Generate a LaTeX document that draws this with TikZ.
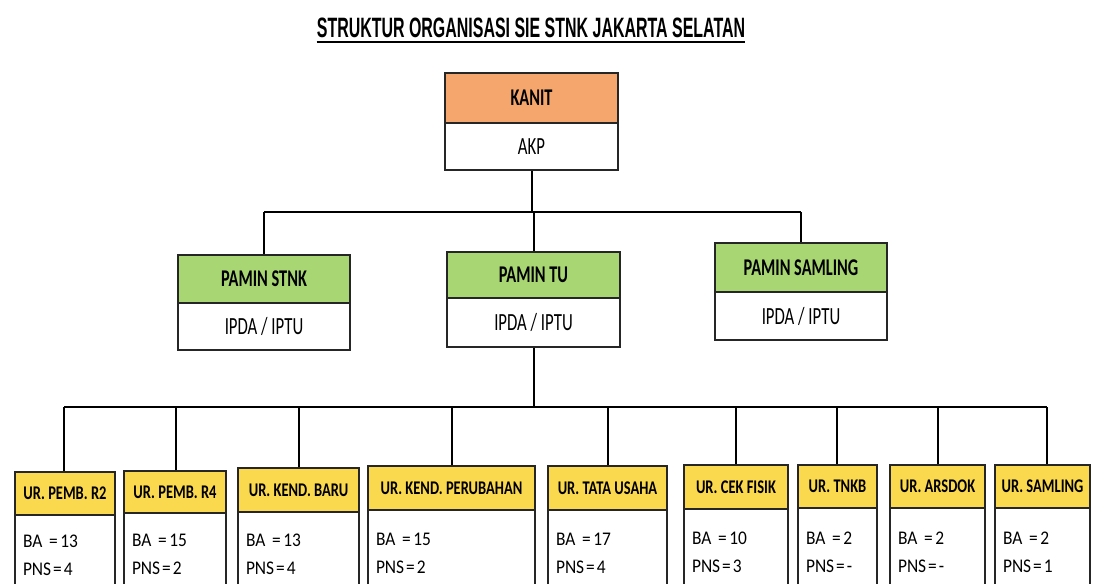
\documentclass[tikz,border=0pt]{standalone}
\usepackage{fontspec}
\newfontfamily\upfont[FakeStretch=0.68]{Carlito}
\newfontfamily\lowfont[FakeStretch=0.75]{Carlito}
\newfontfamily\bodyfont[FakeStretch=0.9]{Carlito}
\newfontfamily\titlefont[FakeStretch=0.57]{Liberation Sans}
\definecolor{linec}{HTML}{262626}
\definecolor{orangec}{HTML}{F4A66C}
\definecolor{greenc}{HTML}{A8D672}
\definecolor{yellowc}{HTML}{FBD94F}
\newcommand\ipdaiptu{IPDA / IPTU}
\tikzset{
  bx/.style={draw=linec, line width=1.3pt, inner sep=0pt, rectangle},
  hd/.style={bx, font=\lowfont\bfseries\fontsize{14.5}{17}\selectfont},
  hdbig/.style={bx, font=\upfont\bfseries\fontsize{18}{22}\selectfont},
  sb/.style={bx, fill=white, font=\bodyfont\fontsize{14.5}{21}\selectfont},
  sbbig/.style={bx, fill=white, font=\upfont\fontsize{18.5}{22}\selectfont},
  conn/.style={draw=black, line width=1.5pt},
  ttl/.style={inner sep=0pt, font=\titlefont\bfseries\fontsize{21}{24}\selectfont}
}
\begin{document}
\begin{tikzpicture}[x=0.75pt,y=-0.75pt]
\useasboundingbox (0,0) rectangle (1096,583);
\clip (0,0) rectangle (1096,583);
% title
\node[ttl, anchor=base] (title) at (531,37) {STRUKTUR ORGANISASI SIE STNK JAKARTA SELATAN};
\draw[line width=1.6pt] ([yshift=-3.9pt]title.base west) -- ([yshift=-3.9pt]title.base east);
% upper two-part boxes
\foreach \n/\l/\r/\t/\m/\b/\c/\ti/\su in {
  kanit/445/618/73/123/170/orangec/KANIT/AKP,
  stnk/178/350/255/303/350/greenc/PAMIN STNK/\ipdaiptu,
  tu/447/620/252/298/347/greenc/PAMIN TU/\ipdaiptu,
  sam/715/887/243/292/340/greenc/PAMIN SAMLING/\ipdaiptu}{
  \pgfmathsetmacro\w{(\r-\l)*0.75}
  \pgfmathsetmacro\ha{(\m-\t)*0.75}
  \pgfmathsetmacro\hb{(\b-\m)*0.75}
  \node[hdbig, fill=\c, minimum width=\w pt, minimum height=\ha pt] (\n) at ({(\l+\r)/2},{(\t+\m)/2}) {\ti};
  \node[sbbig, minimum width=\w pt, minimum height=\hb pt] (\n b) at ({(\l+\r)/2},{(\m+\b)/2}) {\su};
}
% lower boxes
\foreach \n/\l/\r/\t/\m/\ti/\ba/\pn in {
  u1/15/115/472/515/UR. PEMB. R2/13/4,
  u2/124/226/471/513/UR. PEMB. R4/15/2,
  u3/238/359/468/512/UR. KEND. BARU/13/4,
  u4/368/535/466/510/UR. KEND. PERUBAHAN/15/2,
  u5/548/667/466/510/UR. TATA USAHA/17/4,
  u6/684/788/465/509/UR. CEK FISIK/10/3,
  u7/798/877/465/508/UR. TNKB/2/-,
  u8/890/985/465/508/UR. ARSDOK/2/-,
  u9/995/1090/465/508/UR. SAMLING/2/1}{
  \pgfmathsetmacro\w{(\r-\l)*0.75}
  \pgfmathsetmacro\tw{(\r-\l-16)*0.75}
  \pgfmathsetmacro\ha{(\m-\t)*0.75}
  \pgfmathsetmacro\hb{(596-\m)*0.75}
  \node[hd, fill=yellowc, minimum width=\w pt, minimum height=\ha pt] (\n) at ({(\l+\r)/2},{(\t+\m)/2}) {\ti};
  \node[sb, minimum width=\w pt, minimum height=\hb pt, text width=\tw pt, align=left] (\n b) at ({(\l+\r)/2},{(\m+596)/2}) {BA\kern5pt=\kern2pt\ba\\PNS\kern1.5pt=\kern1.5pt\pn};
}
% connectors
\coordinate (busa) at (0,212);
\coordinate (busb) at (0,407);
\draw[conn] (kanitb.south) -- (kanitb.south |- busa);
\draw[conn] (stnk.north |- busa) -- (sam.north |- busa);
\foreach \n in {stnk,tu,sam}{\draw[conn] (\n.north) -- (\n.north |- busa);}
\draw[conn] (tub.south) -- (tub.south |- busb);
\draw[conn] ([xshift=-0.75pt]u1.north |- busb) -- ([xshift=3pt]u9.north |- busb);
\foreach \n/\dx in {u1/-0.75,u2/0.75,u3/0,u4/0.4,u5/0,u6/0,u7/-0.4,u8/0,u9/3}{\draw[conn] ([xshift=\dx pt]\n.north) -- ([xshift=\dx pt]\n.north |- busb);}
\end{tikzpicture}
\end{document}
